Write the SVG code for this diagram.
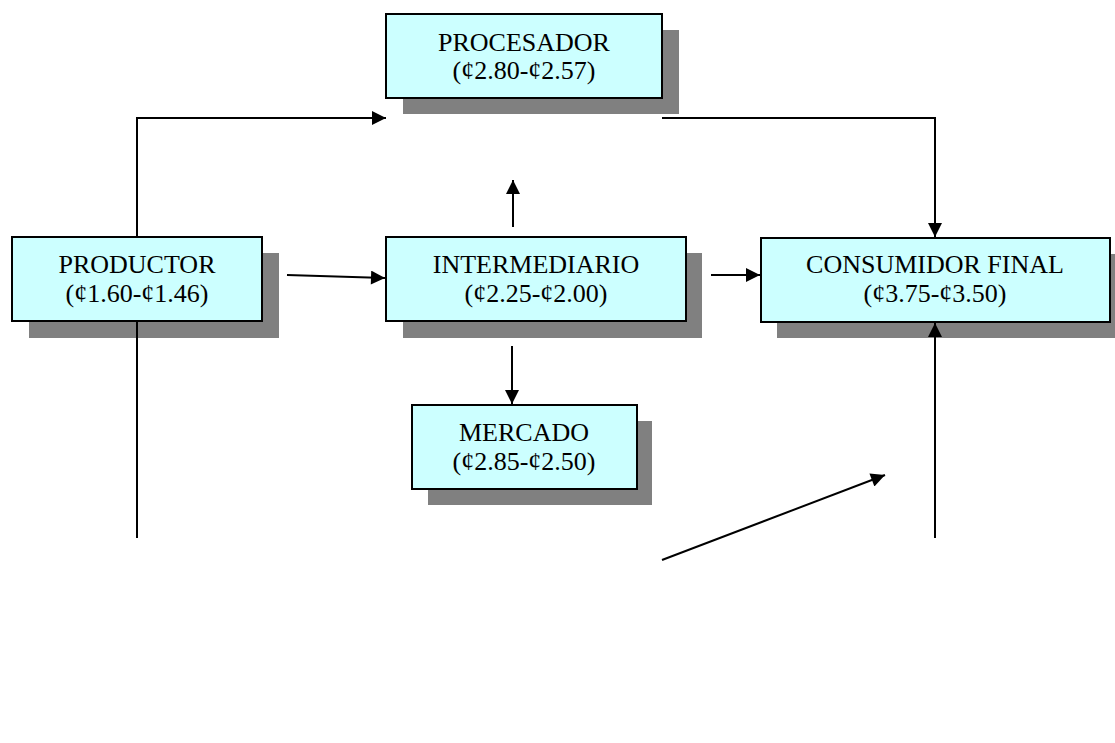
<svg xmlns="http://www.w3.org/2000/svg" width="1115" height="743" viewBox="0 0 1115 743">
<defs>
<marker id="ah" viewBox="0 0 10 10" refX="10" refY="5" markerWidth="16" markerHeight="14" markerUnits="userSpaceOnUse" orient="auto">
<path d="M0,0 L10,5 L0,10 Z" fill="#000"/>
</marker>
</defs>
<style>
.sh{fill:#808080}
.bx{fill:#CCFFFF;stroke:#000;stroke-width:2}
.t{font-family:"Liberation Serif","Times New Roman",serif;font-size:26px;fill:#000;text-anchor:middle}
.c{stroke:#000;stroke-width:2;fill:none}
</style>
<rect width="1115" height="743" fill="#fff"/>
<g id="procesador">
<rect class="sh" x="403" y="30" width="276" height="84"/>
<rect class="bx" x="386" y="14" width="276" height="84"/>
<text class="t" x="524" y="51">PROCESADOR</text>
<text class="t" x="524" y="79">(¢2.80-¢2.57)</text>
</g>
<g id="productor">
<rect class="sh" x="29" y="253" width="250" height="85"/>
<rect class="bx" x="12" y="237" width="250" height="84"/>
<text class="t" x="137" y="273">PRODUCTOR</text>
<text class="t" x="137" y="302">(¢1.60-¢1.46)</text>
</g>
<g id="intermediario">
<rect class="sh" x="403" y="253" width="299" height="85"/>
<rect class="bx" x="386" y="237" width="300" height="84"/>
<text class="t" x="536" y="273">INTERMEDIARIO</text>
<text class="t" x="536" y="302">(¢2.25-¢2.00)</text>
</g>
<g id="consumidor">
<rect class="sh" x="777" y="254" width="345" height="84"/>
<rect class="bx" x="761" y="238" width="349" height="84"/>
<text class="t" x="935" y="273">CONSUMIDOR FINAL</text>
<text class="t" x="935" y="302">(¢3.75-¢3.50)</text>
</g>
<g id="mercado">
<rect class="sh" x="428" y="421" width="224" height="84"/>
<rect class="bx" x="412" y="405" width="225" height="84"/>
<text class="t" x="524" y="441">MERCADO</text>
<text class="t" x="524" y="470">(¢2.85-¢2.50)</text>
</g>
<g id="connectors">
<path class="c" d="M137,237 V118 H386" marker-end="url(#ah)"/>
<path class="c" d="M137,322 V538"/>
<path class="c" d="M662,118 H935 V237" marker-end="url(#ah)"/>
<path class="c" d="M287,275 L385,278" marker-end="url(#ah)"/>
<path class="c" d="M513,227 V180" marker-end="url(#ah)"/>
<path class="c" d="M711,275 H760" marker-end="url(#ah)"/>
<path class="c" d="M512,346 V404" marker-end="url(#ah)"/>
<path class="c" d="M662,560 L885,475" marker-end="url(#ah)"/>
<path class="c" d="M935,538 V323" marker-end="url(#ah)"/>
</g>
</svg>
